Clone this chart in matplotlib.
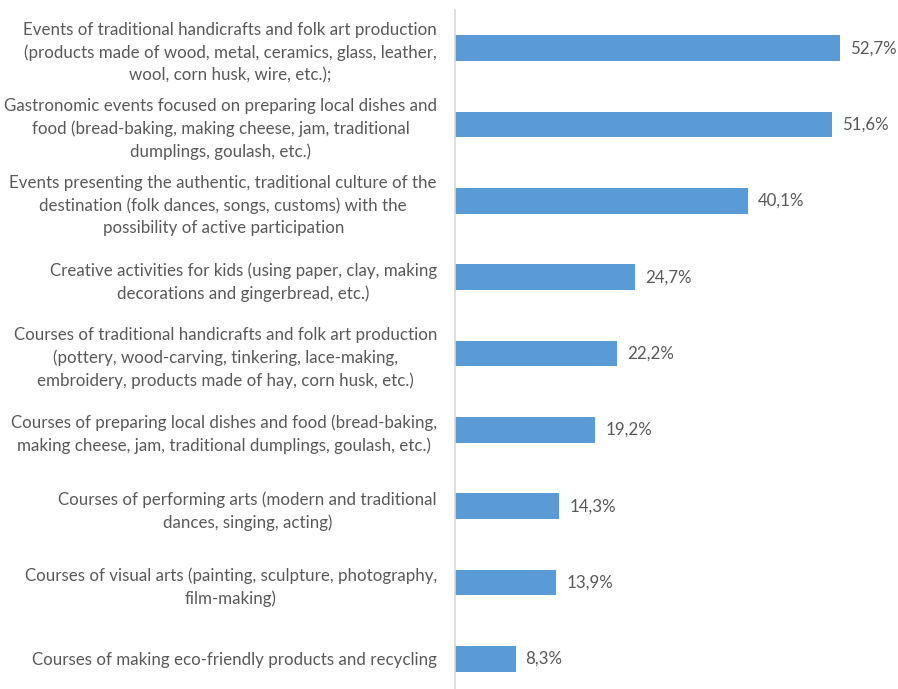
import numpy as np
import matplotlib.pyplot as plt

# categories, top to bottom
categories = [
    "Events of traditional handicrafts and folk art production\n(products made of wood, metal, ceramics, glass, leather,\nwool, corn husk, wire, etc.);",
    "Gastronomic events focused on preparing local dishes and\nfood (bread-baking, making cheese, jam, traditional\ndumplings, goulash, etc.)",
    "Events presenting the authentic, traditional culture of the\ndestination (folk dances, songs, customs) with the\npossibility of active participation",
    "Creative activities for kids (using paper, clay, making\ndecorations and gingerbread, etc.)",
    "Courses of traditional handicrafts and folk art production\n(pottery, wood-carving, tinkering, lace-making,\nembroidery, products made of hay, corn husk, etc.)",
    "Courses of preparing local dishes and food (bread-baking,\nmaking cheese, jam, traditional dumplings, goulash, etc.)",
    "Courses of performing arts (modern and traditional\ndances, singing, acting)",
    "Courses of visual arts (painting, sculpture, photography,\nfilm-making)",
    "Courses of making eco-friendly products and recycling",
]
values = [52.7, 51.6, 40.1, 24.7, 22.2, 19.2, 14.3, 13.9, 8.3]
value_labels = ["52,7%", "51,6%", "40,1%", "24,7%", "22,2%", "19,2%", "14,3%", "13,9%", "8,3%"]

W, H = 898, 689
text_color = "#595959"
bar_color = "#5B9BD5"

plt.rcParams['font.family'] = ['Lato', 'DejaVu Sans']

fig = plt.figure(figsize=(W / 100, H / 100), dpi=100)
# axes placed in pixel terms: left edge at the axis line, top at y=10
left, right, top, bottom = 455, 893, 10, 697
ax = fig.add_axes([left / W, (H - bottom) / H, (right - left) / W, (bottom - top) / H])

y = np.arange(len(categories))
ax.barh(y, values, height=0.34, color=bar_color)
ax.set_ylim(len(categories) - 0.5, -0.5)
ax.set_xlim(0, 60)

ax.set_yticks(y)
ax.set_yticklabels(categories, fontsize=12.2, color=text_color, linespacing=1.47)
for t in ax.get_yticklabels():
    t.set_multialignment('center')
ax.tick_params(axis='y', length=0, pad=13)
ax.set_xticks([])

for s in ['top', 'right', 'bottom']:
    ax.spines[s].set_visible(False)
ax.spines['left'].set_color('#D9D9D9')
ax.spines['left'].set_linewidth(1.2)

for yi, v, lab in zip(y, values, value_labels):
    ax.annotate(lab, (v, yi), xytext=(10, 0), textcoords='offset pixels',
                va='center', ha='left', fontsize=12.2, color=text_color)

fig.savefig("out.png", dpi=100)
